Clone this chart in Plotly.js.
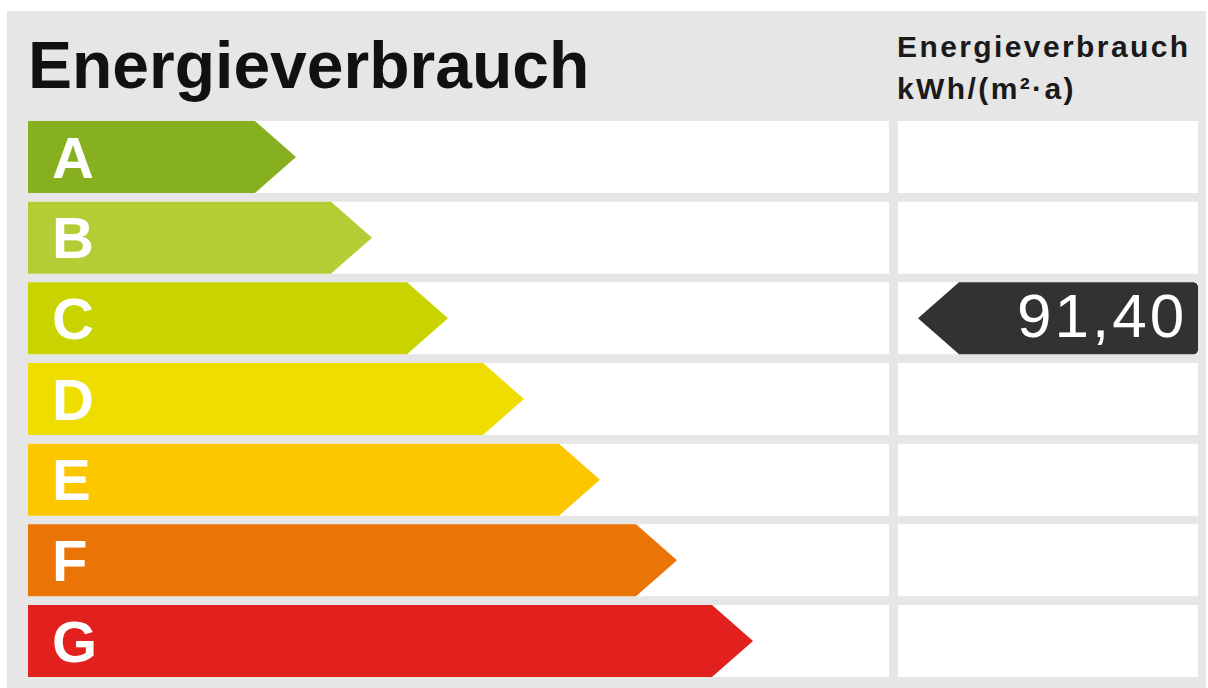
<!DOCTYPE html>
<html>
<head>
<meta charset="utf-8">
<script src="https://cdn.plot.ly/plotly-3.0.1.min.js"></script>
<style>
  html, body { margin: 0; padding: 0; background: #ffffff; }
  #chart { width: 1208px; height: 688px; }
  .annotation[data-index="1"] text { letter-spacing: 2.4px; }
  .annotation[data-index="2"] text { letter-spacing: 2.4px; }
  .annotation[data-index="3"] text { letter-spacing: 3px; }
</style>
</head>
<body>
<div id="chart"></div>
<script>
// ---- data ----
var classes = ['A', 'B', 'C', 'D', 'E', 'F', 'G'];
var classColors = ['#86b01f', '#b4cd35', '#c9d300', '#f0dd00', '#fdc700', '#eb7406', '#e2211f'];
var classUpperBounds = [50, 75, 100, 130, 160, 200, 250];
var arrowLength = [268, 344, 420, 496, 572, 649, 725];
var consumptionValue = 91.40;
var titleText = 'Energieverbrauch';
var headerLine1 = 'Energieverbrauch';
var headerLine2 = 'kWh/(m²·a)';

// ---- layout constants (pixels) ----
var W = 1208, H = 688;
var rowPitch = 80.67, firstRowCenter = 157, rowHalf = 36;
var leftX = 28, leftBandEnd = 889, rightBandStart = 898, rightBandEnd = 1198;
var headDepth = 41, markerTip = 918;
function rowUnits(px) { return px / rowPitch; }
var yTop = -firstRowCenter / rowPitch;
var yBottom = (H - firstRowCenter) / rowPitch;
var half = rowUnits(rowHalf);

var traces = [];
var shapes = [];

// gray panel
shapes.push({type: 'rect', xref: 'paper', yref: 'paper', x0: 7 / W, x1: 1206 / W, y0: 0, y1: 1 - 11 / H,
  fillcolor: '#e6e6e6', line: {width: 0}, layer: 'below'});

classes.forEach(function (c, i) {
  // white row bands
  shapes.push({type: 'rect', xref: 'x', yref: 'y', x0: leftX, x1: leftBandEnd, y0: i - half, y1: i + half,
    fillcolor: '#ffffff', line: {width: 0}, layer: 'below'});
  shapes.push({type: 'rect', xref: 'x', yref: 'y', x0: rightBandStart, x1: rightBandEnd, y0: i - half, y1: i + half,
    fillcolor: '#ffffff', line: {width: 0}, layer: 'below'});
  // class arrow
  var tip = leftX + arrowLength[i];
  traces.push({
    type: 'scatter', mode: 'lines', fill: 'toself', fillcolor: classColors[i],
    line: {width: 0, color: classColors[i]}, hoverinfo: 'skip',
    x: [leftX, tip - headDepth, tip, tip - headDepth, leftX, leftX],
    y: [i - half, i - half, i, i + half, i + half, i - half]
  });
});

// value marker
var valueClass = 0;
while (valueClass < classUpperBounds.length - 1 && consumptionValue >= classUpperBounds[valueClass]) valueClass++;
var r = 4, rr = rowUnits(r);
var mk = valueClass;
traces.push({
  type: 'scatter', mode: 'lines', fill: 'toself', fillcolor: '#323232',
  line: {width: 0, color: '#323232'}, hoverinfo: 'skip',
  x: [markerTip, markerTip + headDepth, rightBandEnd - r, rightBandEnd - r * 0.3, rightBandEnd,
      rightBandEnd, rightBandEnd - r * 0.3, rightBandEnd - r, markerTip + headDepth, markerTip],
  y: [mk, mk - half, mk - half, mk - half + rr * 0.3, mk - half + rr,
      mk + half - rr, mk + half - rr * 0.3, mk + half, mk + half, mk]
});

var FONT = '"Liberation Sans", Arial, Helvetica, sans-serif';
function py(px) { return 1 - px / H; }
var annotations = [
  {text: titleText, xref: 'x', yref: 'paper', x: 26, y: py(65), xanchor: 'left', yanchor: 'middle', align: 'left',
   showarrow: false, font: {family: FONT, size: 66, color: '#111111', weight: 'bold'}},
  {text: headerLine1, xref: 'x', yref: 'paper', x: 895, y: py(46.5), xanchor: 'left', yanchor: 'middle', align: 'left',
   showarrow: false, font: {family: FONT, size: 30, color: '#1a1a1a', weight: 'bold'}},
  {text: headerLine2, xref: 'x', yref: 'paper', x: 895, y: py(88), xanchor: 'left', yanchor: 'middle', align: 'left',
   showarrow: false, font: {family: FONT, size: 30, color: '#1a1a1a', weight: 'bold'}},
  {text: consumptionValue.toFixed(2).replace('.', ','), xref: 'x', yref: 'y', x: 1189, y: mk - rowUnits(3),
   xanchor: 'right', yanchor: 'middle', align: 'right', showarrow: false,
   font: {family: FONT, size: 62, color: '#ffffff'}}
];
classes.forEach(function (c, i) {
  annotations.push({text: c, xref: 'x', yref: 'y', x: 50, y: i, xanchor: 'left', yanchor: 'middle', align: 'left',
    showarrow: false, font: {family: FONT, size: 58, color: '#ffffff', weight: 'bold'}});
});

var layout = {
  width: W, height: H,
  margin: {l: 0, r: 0, t: 0, b: 0, pad: 0},
  paper_bgcolor: '#ffffff', plot_bgcolor: 'rgba(0,0,0,0)',
  showlegend: false,
  xaxis: {range: [0, W], visible: false, fixedrange: true},
  yaxis: {range: [yBottom, yTop], visible: false, fixedrange: true},
  shapes: shapes,
  annotations: annotations
};
Plotly.newPlot('chart', traces, layout, {displayModeBar: false, staticPlot: true});
</script>
</body>
</html>
